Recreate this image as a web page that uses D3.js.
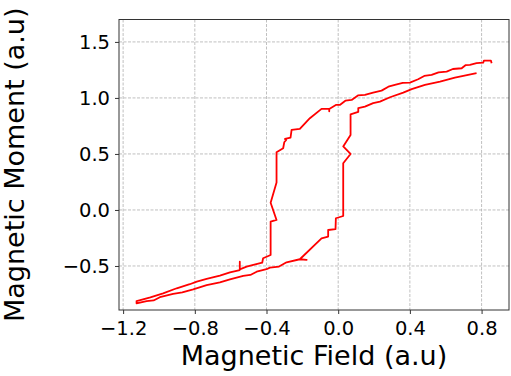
<!DOCTYPE html>
<html lang="en">
<head>
  <meta charset="UTF-8">
  <title>Magnetic hysteresis loop</title>
  <script src="https://cdn.jsdelivr.net/npm/d3@7"></script>
  <style>
    body { margin: 0; background: #fff; }
    svg { display: block; font-family: "DejaVu Sans", sans-serif; }
  </style>
</head>
<body>
<script>
  // field sweep going down (from +H to -H)
  const fieldDown = [0.856, 0.852, 0.813, 0.809, 0.772, 0.735, 0.71, 0.689, 0.64, 0.605, 0.56, 0.521, 0.48, 0.446,
    0.400, 0.36, 0.316, 0.28, 0.242, 0.195, 0.149, 0.11, 0.075, 0.04, 0.009, -0.013, -0.050, -0.050, -0.050,
    -0.093, -0.158, -0.214, -0.260, -0.266, -0.297, -0.29, -0.301, -0.307, -0.344, -0.344, -0.377, -0.344,
    -0.377, -0.377, -0.419, -0.424, -0.468, -0.511, -0.549, -0.549, -0.549, -0.604, -0.660, -0.734, -0.789,
    -0.828, -0.901, -0.977, -1.048, -1.125];
  const momentDown = [1.310, 1.333, 1.333, 1.315, 1.310, 1.295, 1.292, 1.265, 1.258, 1.235, 1.228, 1.205, 1.196, 1.167,
    1.137, 1.134, 1.116, 1.10, 1.065, 1.047, 1.027, 1.022, 0.982, 0.975, 0.9375, 0.9375, 0.902, 0.88, 0.902,
    0.902, 0.819, 0.723, 0.714, 0.646, 0.634, 0.625, 0.604, 0.551, 0.515, 0.244, 0.065, -0.089,
    -0.104, -0.402, -0.431, -0.471, -0.487, -0.506, -0.530, -0.462, -0.536, -0.557, -0.586, -0.616, -0.640,
    -0.663, -0.699, -0.744, -0.780, -0.813];

  // field sweep going up (from -H back to +H)
  const fieldUp = [-1.125, -1.125, -1.069, -1.03, -0.995, -0.921, -0.87, -0.809, -0.734, -0.660, -0.604, -0.530,
    -0.49, -0.455, -0.400, -0.381, -0.33, -0.288, -0.214, -0.176, -0.214, -0.093, -0.056, -0.056, -0.015,
    -0.013, 0.028, 0.028, 0.069, 0.028, 0.069, 0.069, 0.112, 0.112, 0.149, 0.195, 0.233, 0.289, 0.363,
    0.410, 0.484, 0.568, 0.651, 0.725, 0.772];
  const momentUp = [-0.813, -0.833, -0.813, -0.808, -0.779, -0.750, -0.735, -0.708, -0.670, -0.646, -0.619, -0.589,
    -0.58, -0.551, -0.529, -0.515, -0.505, -0.467, -0.440, -0.446, -0.440, -0.253, -0.237, -0.179, -0.172,
    -0.074, -0.054, 0.417, 0.5, 0.567, 0.670, 0.854, 0.875, 0.908, 0.922, 0.953, 0.967, 1.006, 1.047,
    1.078, 1.116, 1.146, 1.181, 1.205, 1.221];

  const xTicks = [-1.2, -0.8, -0.4, 0.0, 0.4, 0.8];
  const yTicks = [-0.5, 0.0, 0.5, 1.0, 1.5];

  const width = 511, height = 376;
  const margin = { top: 19.5, right: 2, bottom: 66, left: 119 };
  const innerW = width - margin.left - margin.right;
  const innerH = height - margin.top - margin.bottom;

  const svg = d3.select('body').append('svg')
    .attr('width', width)
    .attr('height', height);

  const g = svg.append('g').attr('transform', `translate(${margin.left},${margin.top})`);

  const x = d3.scaleLinear().domain([-1.223, 0.953]).range([0, innerW]);
  const y = d3.scaleLinear().domain([-0.893, 1.70]).range([innerH, 0]);

  // grid
  g.append('g').selectAll('line')
    .data(xTicks).enter().append('line')
    .attr('x1', d => x(d)).attr('x2', d => x(d))
    .attr('y1', 0).attr('y2', innerH)
    .attr('stroke', '#b0b0b0').attr('stroke-width', 0.8).attr('stroke-dasharray', '3,1.5');
  g.append('g').selectAll('line')
    .data(yTicks).enter().append('line')
    .attr('x1', 0).attr('x2', innerW)
    .attr('y1', d => y(d)).attr('y2', d => y(d))
    .attr('stroke', '#b0b0b0').attr('stroke-width', 0.8).attr('stroke-dasharray', '3,1.5');

  // loop: down branch then up branch
  const pts = fieldDown.map((h, i) => [h, momentDown[i]])
    .concat(fieldUp.map((h, i) => [h, momentUp[i]]));
  const line = d3.line().x(d => x(d[0])).y(d => y(d[1]));
  g.append('path')
    .datum(pts)
    .attr('d', line)
    .attr('fill', 'none')
    .attr('stroke', 'red')
    .attr('stroke-width', 1.8)
    .attr('stroke-linejoin', 'round');

  // axes
  const fmt = d3.format('.1f');
  const xAxis = g.append('g')
    .attr('transform', `translate(0,${innerH})`)
    .call(d3.axisBottom(x).tickValues(xTicks).tickFormat(fmt).tickSize(4).tickPadding(7));
  const yAxis = g.append('g')
    .call(d3.axisLeft(y).tickValues(yTicks).tickFormat(fmt).tickSize(4).tickPadding(5));

  [xAxis, yAxis].forEach(a => {
    a.select('.domain').remove();
    a.selectAll('line').attr('stroke', '#333').attr('stroke-width', 1);
    a.selectAll('text').attr('font-size', 19.5).attr('fill', '#000')
      .attr('font-family', '"DejaVu Sans", sans-serif');
  });

  // box
  g.append('rect')
    .attr('width', innerW).attr('height', innerH)
    .attr('fill', 'none').attr('stroke', '#333').attr('stroke-width', 1);

  svg.append('text')
    .attr('x', margin.left + innerW / 2).attr('y', 365)
    .attr('text-anchor', 'middle').attr('font-size', 27)
    .text('Magnetic Field (a.u)');

  svg.append('text')
    .attr('transform', `translate(24,${margin.top + innerH / 2}) rotate(-90)`)
    .attr('text-anchor', 'middle').attr('font-size', 27)
    .text('Magnetic Moment (a.u)');
</script>
</body>
</html>
